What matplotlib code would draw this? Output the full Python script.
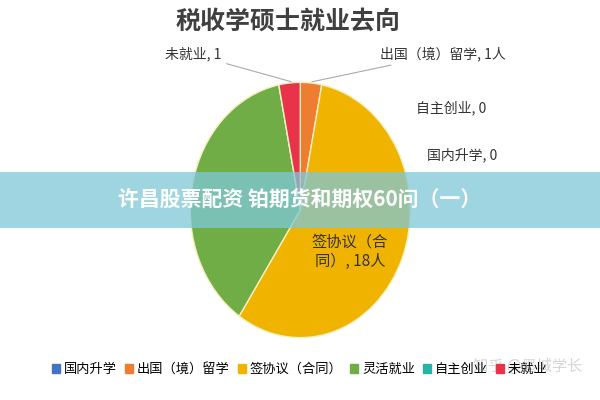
import matplotlib.pyplot as plt
from matplotlib.patches import Rectangle

plt.rcParams['font.family'] = ['Noto Sans CJK SC', 'DejaVu Sans']

categories = ['国内升学', '出国（境）留学', '签协议（合同）', '灵活就业', '自主创业', '未就业']
values = [0, 1, 18, 12, 0, 1]
colors = ['#4472c4', '#ed7d31', '#f0b400', '#70ad47', '#26b3a8', '#e8334a']

fig = plt.figure(figsize=(6, 4), dpi=100)
fig.patch.set_facecolor('white')
ax = fig.add_axes([0.308, 0.14, 0.385, 0.67])
wedges, _ = ax.pie(values, colors=colors, startangle=90, counterclock=False,
                   wedgeprops=dict(edgecolor='#f5f0c0', linewidth=1))
ax.set_aspect('auto')
ax.set_xlim(-1.05, 1.05)
ax.set_ylim(-1.05, 1.05)

fig.text(0.48, 0.945, '税收学硕士就业去向', ha='center', va='center', fontsize=18,
         fontweight='bold', color='#404040')

ann = dict(fontsize=10, color='#333333')
ax.annotate('未就业, 1', xy=(-0.06, 1.0), xytext=(-0.72, 1.22), ha='right', va='center',
            arrowprops=dict(arrowstyle='-', color='#aaaaaa', lw=0.8), **ann)
ax.annotate('出国（境）留学, 1人', xy=(0.08, 1.0), xytext=(0.72, 1.22), ha='left', va='center',
            arrowprops=dict(arrowstyle='-', color='#aaaaaa', lw=0.8), **ann)
ax.text(1.05, 0.8, '自主创业, 0', ha='left', va='center', **ann)
ax.text(1.15, 0.43, '国内升学, 0', ha='left', va='center', **ann)
ax.text(0.45, -0.33, '签协议（合\n同）, 18人', ha='center', va='center', fontsize=11, color='#333333')

# overlay banner
fig.patches.append(Rectangle((0, 0.43), 1, 0.14, transform=fig.transFigure,
                             facecolor='#7ec8d8', alpha=0.75, zorder=5))
fig.text(0.5, 0.5, '许昌股票配资 铂期货和期权60问（一）', ha='center', va='center',
         fontsize=15, fontweight='bold', color='white', zorder=6)

# legend
handles = [plt.Rectangle((0, 0), 1, 1, color=c) for c in colors]
fig.legend(handles, categories, loc='lower center', bbox_to_anchor=(0.5, 0.03), ncol=6,
           frameon=False, fontsize=9.5, handlelength=0.6, handleheight=0.6,
           handletextpad=0.3, columnspacing=0.6)
fig.text(0.97, 0.085, '知乎 @墨城学长', ha='right', va='center', fontsize=11,
         color='#cccccc', alpha=0.8)

fig.savefig('out.png', dpi=100)
